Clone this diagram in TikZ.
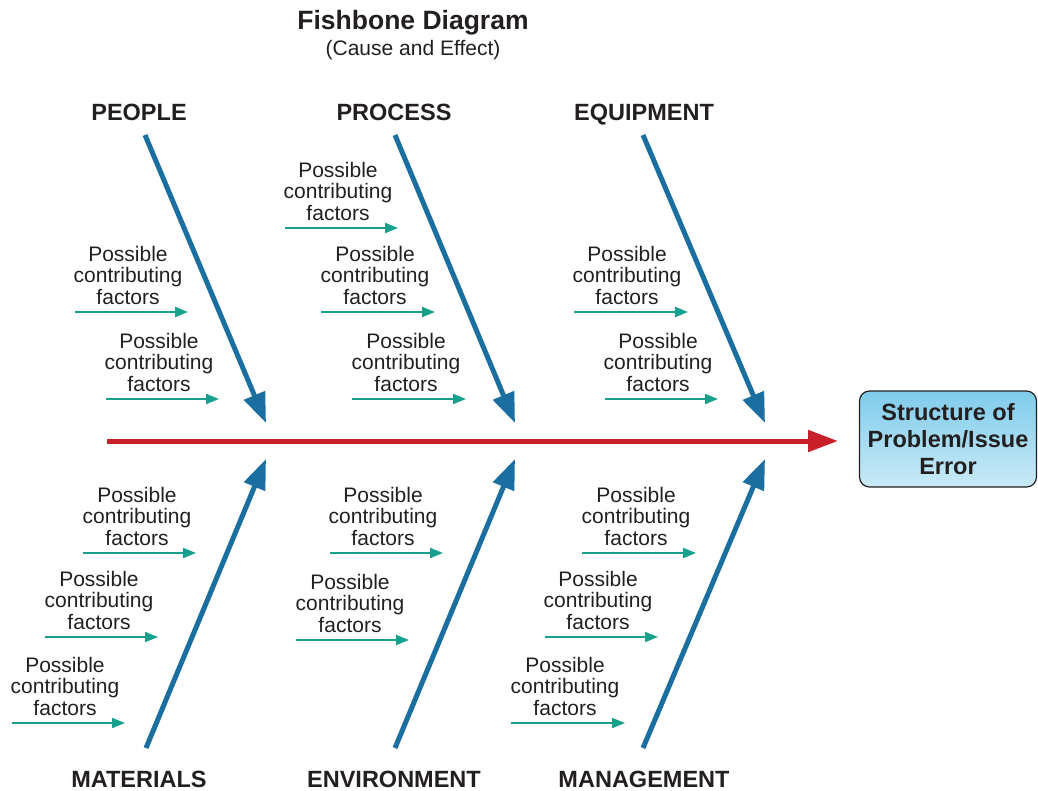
\documentclass[tikz,border=0pt]{standalone}
\usepackage{fontspec}
\setmainfont{Liberation Sans}
\usetikzlibrary{arrows.meta}
\definecolor{bone}{HTML}{1B6FA0}
\definecolor{spinecol}{HTML}{C8202A}
\definecolor{subcol}{HTML}{17A08C}
\definecolor{ink}{HTML}{231F20}
\definecolor{boxtop}{HTML}{7FCCEB}
\definecolor{boxbot}{HTML}{C9EAF7}
\begin{document}
\begin{tikzpicture}[x=1pt,y=-1pt,
  cat/.style={font=\fontsize{23.5}{26}\selectfont\bfseries, text=ink, inner sep=0, anchor=base},
  factor/.style={font=\fontsize{21}{21.5}\selectfont, text=ink, align=center, inner sep=0},
  bonearrow/.style={draw=bone, line width=5pt, -{Triangle[length=30pt,width=22pt]}},
  spinearrow/.style={draw=spinecol, line width=5pt, -{Triangle[length=30pt,width=21pt]}},
  factorarrow/.style={draw=subcol, line width=2pt, -{Triangle[length=13pt,width=10pt]}},
  headbox/.style={draw=ink, line width=1.2pt, rounded corners=10pt, top color=boxtop, bottom color=boxbot,
     minimum width=177pt, minimum height=96pt, align=center, text=ink,
     font=\fontsize{23.5}{27}\selectfont\bfseries}
]
\useasboundingbox (0,0) rectangle (1038,791);

% title
\node[font=\fontsize{26.5}{30}\selectfont\bfseries, text=ink] (title) at (413,23) {Fishbone Diagram};
\node[font=\fontsize{21}{24}\selectfont, text=ink] (subtitle) at (413,50) {(Cause and Effect)};

% head
\node[headbox] (head) at (948,439) {Structure of\\Problem/Issue\\Error};

% spine
\coordinate (spS) at (107,441);
\coordinate (spE) at (838,441);
\draw[spinearrow] (spS) -- (spE);

% category labels
\node[cat] (people) at (139,121) {PEOPLE};
\node[cat] (process) at (394,121) {PROCESS};
\node[cat] (equip) at (644,121) {EQUIPMENT};
\node[cat] (mater) at (139,787) {MATERIALS};
\node[cat] (envir) at (394,787) {ENVIRONMENT};
\node[cat] (manag) at (644,787) {MANAGEMENT};

% bones
\coordinate (b1s) at (145,135); \coordinate (b1e) at (266,423);
\coordinate (b2s) at (395,135); \coordinate (b2e) at (515,423);
\coordinate (b3s) at (643,135); \coordinate (b3e) at (765,423);
\coordinate (b4s) at (146,748); \coordinate (b4e) at (266,459);
\coordinate (b5s) at (395,748); \coordinate (b5e) at (515,459);
\coordinate (b6s) at (643,748); \coordinate (b6e) at (765,459);
\foreach \i in {1,...,6} { \draw[bonearrow] (b\i s) -- (b\i e); }

% contributing factors
\foreach \i/\xa/\xb/\y/\tx in {
  1/75/188/312/128, 2/106/219/399/159,
  3/285/398/228/338, 4/321/435/312/375, 5/352/466/399/406,
  6/574/688/312/627, 7/605/718/399/658,
  8/83/196/553/137, 9/45/158/637/99, 10/12/125/723/65,
  11/330/443/553/383, 12/296/409/640/350,
  13/582/696/553/636, 14/545/658/637/598, 15/511/625/723/565}
{
  \coordinate (f\i a) at (\xa,\y);
  \coordinate (f\i b) at (\xb,\y);
  \draw[factorarrow] (f\i a) -- (f\i b);
  \node[factor] (t\i) at (\tx,\y-37) {Possible\\contributing\\factors};
}
\end{tikzpicture}
\end{document}
